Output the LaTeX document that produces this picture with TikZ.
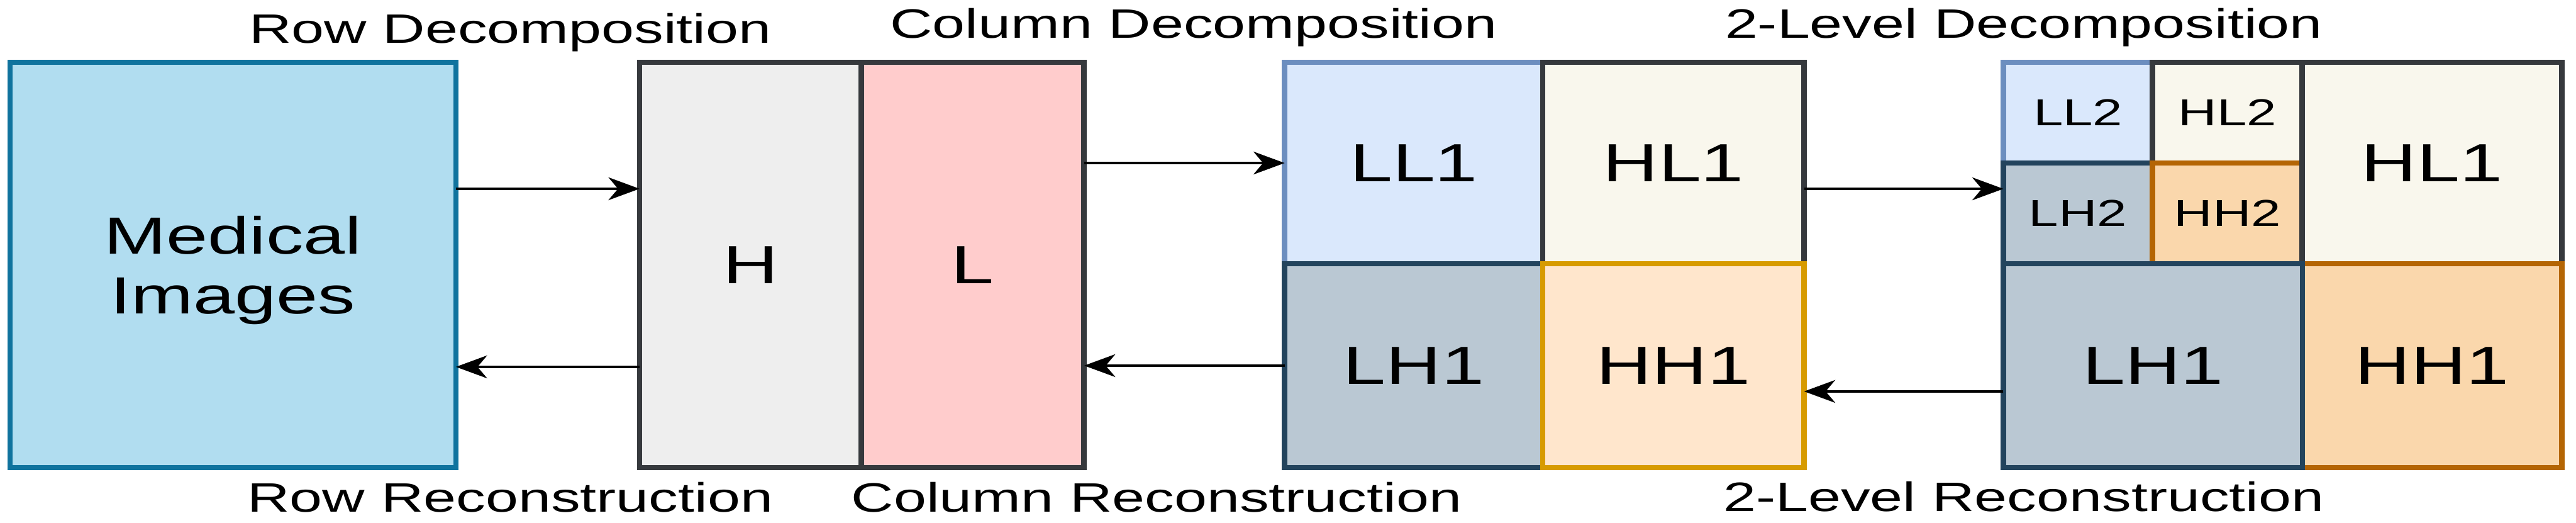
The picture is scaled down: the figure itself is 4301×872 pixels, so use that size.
\documentclass[tikz,border=0pt]{standalone}
\usepackage{fontspec}
\setmainfont{Liberation Sans}
\usepackage{graphicx}
\usetikzlibrary{arrows.meta}
\definecolor{medfill}{HTML}{B1DDF0}
\definecolor{medline}{HTML}{10739E}
\definecolor{grayfill}{HTML}{EEEEEE}
\definecolor{darkline}{HTML}{36393D}
\definecolor{redfill}{HTML}{FFCCCC}
\definecolor{bluefill}{HTML}{DAE8FC}
\definecolor{blueline}{HTML}{6C8EBF}
\definecolor{creamfill}{HTML}{F9F7ED}
\definecolor{slatefill}{HTML}{BAC8D3}
\definecolor{slateline}{HTML}{23445D}
\definecolor{peachfill}{HTML}{FFE6CC}
\definecolor{peachline}{HTML}{D79B00}
\definecolor{orangefill}{HTML}{FAD7AC}
\definecolor{orangeline}{HTML}{B46504}
\newcommand\sx[1]{\scalebox{1.43}[1]{#1}}
\begin{document}
\begin{tikzpicture}[x=0.01cm,y=-0.01cm,
  cell/.style={draw, line width=2.6pt, inner sep=0pt, outer sep=0pt, rectangle},
  bigtxt/.style={font=\fontsize{25.5}{30}\selectfont},
  smalltxt/.style={font=\fontsize{17.8}{21}\selectfont},
  lbl/.style={font=\fontsize{19.5}{23}\selectfont, anchor=base, inner sep=0pt},
  arr/.style={line width=1.2pt, -{Stealth[length=0.52cm,width=0.38cm,inset=0.16cm]}}]
\useasboundingbox (0,0) rectangle (4301,872);
\fill[white] (0,0) rectangle (4301,872);

% Medical images
\node[cell, draw=medline, fill=medfill, minimum width=7.44cm, minimum height=6.76cm,
  align=center, text depth=0pt, font=\fontsize{24.8}{28.45}\selectfont] (med) at (389,442) {\sx{Medical}\\\sx{Images}};

% Row decomposition
\node[cell, draw=darkline, fill=grayfill, minimum width=3.70cm, minimum height=6.76cm, bigtxt] (H) at (1253,442) {\sx{H}};
\node[cell, draw=darkline, fill=redfill, minimum width=3.72cm, minimum height=6.76cm, bigtxt] (L) at (1624,442) {\sx{L}};

% Level 1
\node[cell, draw=blueline, fill=bluefill, minimum width=4.31cm, minimum height=3.36cm, bigtxt] (LLa) at (2360.5,272) {\sx{LL1}};
\node[cell, draw=darkline, fill=creamfill, minimum width=4.36cm, minimum height=3.36cm, bigtxt] (HLa) at (2794,272) {\sx{HL1}};
\node[cell, draw=slateline, fill=slatefill, minimum width=4.31cm, minimum height=3.40cm, bigtxt] (LHa) at (2360.5,610) {\sx{LH1}};
\node[cell, draw=peachline, fill=peachfill, minimum width=4.36cm, minimum height=3.40cm, bigtxt] (HHa) at (2794,610) {\sx{HH1}};

% Level 2
\node[cell, draw=blueline, fill=bluefill, minimum width=2.49cm, minimum height=1.68cm, smalltxt] (LL2) at (3469.5,188) {\sx{LL2}};
\node[cell, draw=darkline, fill=creamfill, minimum width=2.50cm, minimum height=1.68cm, smalltxt] (HL2) at (3719,188) {\sx{HL2}};
\node[cell, draw=slateline, fill=slatefill, minimum width=2.49cm, minimum height=1.68cm, smalltxt] (LH2) at (3469.5,356) {\sx{LH2}};
\node[cell, draw=orangeline, fill=orangefill, minimum width=2.50cm, minimum height=1.68cm, smalltxt] (HH2) at (3719,356) {\sx{HH2}};
\node[cell, draw=darkline, fill=creamfill, minimum width=4.33cm, minimum height=3.36cm, bigtxt] (HLb) at (4060.5,272) {\sx{HL1}};
\node[cell, draw=orangeline, fill=orangefill, minimum width=4.33cm, minimum height=3.40cm, bigtxt] (HHb) at (4060.5,610) {\sx{HH1}};
\node[cell, draw=slateline, fill=slatefill, minimum width=4.99cm, minimum height=3.40cm, bigtxt] (LHb) at (3594.5,610) {\sx{LH1}};

% Labels
\node[lbl] (rowdec) at (852,72) {\sx{Row Decomposition}};
\node[lbl] (rowrec) at (852,854) {\sx{Row Reconstruction}};
\node[lbl] (coldec) at (1993,64) {\sx{Column Decomposition}};
\node[lbl] (colrec) at (1931,854) {\sx{Column Reconstruction}};
\node[lbl] (lvdec) at (3379,64) {\sx{2-Level Decomposition}};
\node[lbl] (lvrec) at (3379,853) {\sx{2-Level Reconstruction}};

% Arrows
\draw[arr] ([yshift=1.27cm]med.east) -- ([yshift=1.27cm]med.east -| H.west);
\draw[arr] ([yshift=-1.70cm]H.west) -- ([yshift=-1.70cm]H.west -| med.east);
\draw[arr] (L.east |- LLa.west) -- (LLa.west);
\draw[arr] (LHa.west) -- (L.east |- LHa.west);
\draw[arr] ([yshift=-0.43cm]HLa.east) -- ([yshift=-0.43cm]HLa.east -| LH2.west);
\draw[arr] ([yshift=-0.43cm]LHb.west) -- ([yshift=-0.43cm]LHb.west -| HHa.east);
\end{tikzpicture}
\end{document}
